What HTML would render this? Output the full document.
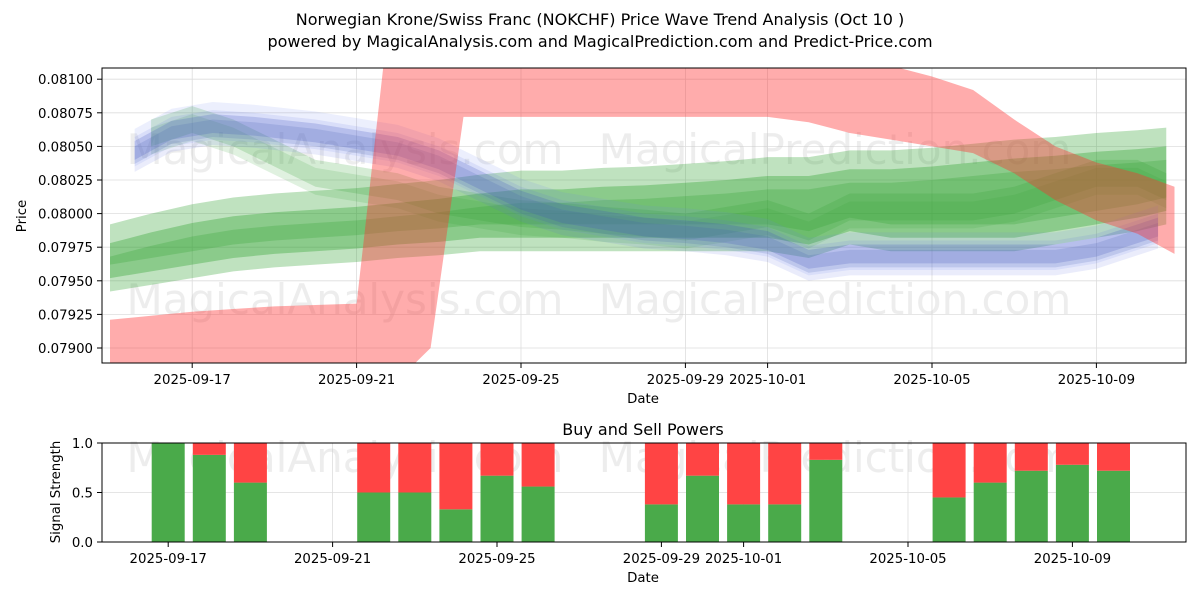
<!DOCTYPE html>
<html><head><meta charset="utf-8"><style>
body{margin:0;background:#fff;font-family:"Liberation Sans","DejaVu Sans",sans-serif}
svg text{font-family:"DejaVu Sans","Liberation Sans",sans-serif}
</style></head><body>
<svg id="c" width="1200" height="600" xmlns="http://www.w3.org/2000/svg">
<defs>
<clipPath id="cp1"><rect x="102" y="68" width="1084" height="295"/></clipPath>
<clipPath id="cp2"><rect x="102" y="443" width="1084" height="99"/></clipPath>
</defs>
<text x="600" y="25" text-anchor="middle" font-size="16">Norwegian Krone/Swiss Franc (NOKCHF) Price Wave Trend Analysis (Oct 10 )</text>
<text x="600" y="47" text-anchor="middle" font-size="16">powered by MagicalAnalysis.com and MagicalPrediction.com and Predict-Price.com</text>
<g id="topg"></g>
<g id="botg"></g>
</svg>
<script>
const NS="http://www.w3.org/2000/svg";
// ---- data ----
const dayLabels=["2025-09-17","2025-09-21","2025-09-25","2025-09-29","2025-10-01","2025-10-05","2025-10-09"];
const dayTickIdx=[2,6,10,14,16,20,24];
const priceTicks=[0.079,0.07925,0.0795,0.07975,0.08,0.08025,0.0805,0.08075,0.081];
const redDays=[0,1,2,3,4,5,6,6.8,7.8,8.6,10,12,14,16,17,18,19,20,21,22,23,24,25,25.9];
const redUpper=[0.07921,0.07924,0.07927,0.07929,0.07931,0.07932,0.07933,0.0815,0.0815,0.0815,0.0815,0.0815,0.0815,0.0815,0.0814,0.0812,0.0811,0.08102,0.08092,0.0807,0.0805,0.08038,0.0803,0.0802];
const redLower=[0.0787,0.0787,0.0787,0.0787,0.0787,0.0787,0.0787,0.0787,0.0790,0.08072,0.08072,0.08072,0.08072,0.08072,0.08068,0.0806,0.08055,0.0805,0.08045,0.0803,0.0801,0.07995,0.07985,0.0797];
const waveDays=[0,1,2,3,4,5,6,7,8,9,10,11,12,13,14,15,16,17,18,19,20,21,22,23,24,25,25.7];
const greenMain=[0.0797,0.07978,0.07985,0.0799,0.07993,0.07995,0.07997,0.0800,0.08003,0.08007,0.0801,0.0801,0.08012,0.08013,0.08015,0.08017,0.0802,0.0802,0.08025,0.08025,0.08027,0.0803,0.08033,0.08035,0.08038,0.0804,0.08042];
const greenLow=[0.0796,0.07965,0.0797,0.07975,0.07978,0.0798,0.07982,0.07985,0.07987,0.0799,0.0799,0.0799,0.0799,0.0799,0.0799,0.0799,0.0799,0.07985,0.07995,0.0799,0.0799,0.0799,0.0799,0.07995,0.08,0.08005,0.0801];
const blueDays=[0.6,1.5,2.5,3.5,5,6,7,8,9,10,11,12,13,14,15,16,17,18,19,20,21,22,23,24,25,25.5];
const blueMid=[0.08047,0.08062,0.08067,0.08065,0.0806,0.08055,0.0805,0.0804,0.08025,0.0801,0.08,0.07995,0.0799,0.07988,0.07985,0.0798,0.07966,0.0797,0.0797,0.0797,0.0797,0.0797,0.0797,0.07975,0.07985,0.0799];
const greenEarly=[0.0806,0.0806,0.0807,0.0806,0.08045,0.0803,0.08025,0.0802,0.0801,0.08005,0.08,0.07998,0.07995,0.07993,0.0799,0.07995,0.08,0.0799,0.08005,0.08005,0.08005,0.08005,0.0801,0.0802,0.0803,0.0803,0.0802];
const barDays=[2,3,4,7,8,9,10,11,14,15,16,17,18,21,22,23,24,25];
const buyPower=[1.0,0.88,0.6,0.5,0.5,0.33,0.67,0.56,0.38,0.67,0.38,0.38,0.83,0.45,0.6,0.72,0.78,0.72];
const sigTicks=[0,0.5,1.0];
// ---- scales ----
const X=d=>110+d*41.1;
const XB=d=>X(d)-24;
const Y=p=>348-(p-0.079)/0.00025*33.6;
const Y2=v=>542-v*99;
const FS=13.3;
function el(t,a,p){const e=document.createElementNS(NS,t);for(const k in a)e.setAttribute(k,a[k]);p.appendChild(e);return e;}
const gTop=document.getElementById('topg'),gBot=document.getElementById('botg');
priceTicks.forEach(p=>{const l=el('line',{x1:102,x2:1186,y1:Y(p),y2:Y(p),stroke:'#ddd','stroke-width':0.8},gTop);

});
dayTickIdx.forEach(d=>{const l=el('line',{x1:X(d),x2:X(d),y1:68,y2:363,stroke:'#ddd','stroke-width':0.8},gTop);


const l2=el('line',{x1:XB(d),x2:XB(d),y1:443,y2:542,stroke:'#ddd','stroke-width':0.8},gBot);

});
[0.5].forEach(v=>{const l=el('line',{x1:102,x2:1186,y1:Y2(v),y2:Y2(v),stroke:'#ddd','stroke-width':0.8},gBot);

});
[[345,150,gTop],[835,150,gTop],[345,300,gTop],[835,300,gTop],[345,458,gBot],[835,458,gBot]].forEach((w,i)=>{
const t=el('text',{x:w[0],y:w[1]+14,'text-anchor':'middle','font-size':42,fill:'#ccc','fill-opacity':0.35},w[2]);
t.textContent=(i%2==0)?'MagicalAnalysis.com':'MagicalPrediction.com';

});
const g=el('g',{'clip-path':'url(#cp1)'},gTop);
function band(days,up,lo,fill,op,name){
let d='M'+days.map((x,i)=>X(x)+','+Y(up[i])).join('L');
d+='L'+days.map((x,i)=>[X(x),Y(lo[i])]).reverse().map(a=>a.join(',')).join('L')+'Z';
const p=el('path',{d:d,fill:fill,'fill-opacity':op},g);

}
function off(arr,o){return arr.map(v=>v+o);}
band(waveDays,off(greenMain,0.00022),off(greenLow,-0.00018),'#2ca02c',0.3,'green-wave-wide');
band(waveDays,off(greenMain,0.00008),off(greenLow,-0.00008),'#2ca02c',0.35,'green-wave-main');
band(waveDays,off(greenMain,-0.00002),off(greenLow,0.00002),'#2ca02c',0.25,'green-wave-inner');
band(waveDays.slice(1),off(greenEarly.slice(1),0.0001),off(greenEarly.slice(1),-0.0001),'#2ca02c',0.2,'green-wave-early');
band(waveDays.slice(1),off(greenEarly.slice(1),0.00004),off(greenEarly.slice(1),-0.00016),'#2ca02c',0.15,'green-wave-early-2');
band(blueDays,off(blueMid,0.00016),off(blueMid,-0.00012),'#7080f0',0.13,'blue-wave-outer');
band(blueDays,off(blueMid,0.0001),off(blueMid,-0.00016),'#6070e0',0.13,'blue-wave-outer-2');
band(blueDays,off(blueMid,0.00007),off(blueMid,-0.00007),'#4050c0',0.22,'blue-wave-mid');
band(blueDays,off(blueMid,0.00003),off(blueMid,-0.0001),'#4060b0',0.18,'blue-wave-inner');
band(redDays,redUpper,redLower,'#ff3030',0.4,'red-wave');
let r=el('rect',{x:102,y:68,width:1084,height:295,fill:'none',stroke:'#000','stroke-width':1},gTop);

priceTicks.forEach(p=>{el('line',{x1:97,x2:102,y1:Y(p),y2:Y(p),stroke:'#000'},gTop);
const t=el('text',{x:93,y:Y(p)+5,'text-anchor':'end','font-size':FS},gTop);t.textContent=p.toFixed(5);

});
dayTickIdx.forEach((d,i)=>{el('line',{x1:X(d),x2:X(d),y1:363,y2:368,stroke:'#000'},gTop);
const t=el('text',{x:X(d),y:384,'text-anchor':'middle','font-size':FS},gTop);t.textContent=dayLabels[i];

});
let t=el('text',{x:643,y:403,'text-anchor':'middle','font-size':FS},gTop);t.textContent='Date';

t=el('text',{x:26,y:216,'text-anchor':'middle','font-size':FS,transform:'rotate(-90 26 216)'},gTop);t.textContent='Price';

const g2=el('g',{'clip-path':'url(#cp2)'},gBot);
barDays.forEach((d,i)=>{const bw=33;
const gr=el('rect',{x:XB(d)-bw/2,y:Y2(buyPower[i]),width:bw,height:Y2(0)-Y2(buyPower[i]),fill:'#4aaa4a'},g2);


const rd=el('rect',{x:XB(d)-bw/2,y:Y2(1),width:bw,height:Y2(buyPower[i])-Y2(1),fill:'#ff4444'},g2);

});
r=el('rect',{x:102,y:443,width:1084,height:99,fill:'none',stroke:'#000','stroke-width':1},gBot);

sigTicks.forEach(v=>{el('line',{x1:97,x2:102,y1:Y2(v),y2:Y2(v),stroke:'#000'},gBot);
const t=el('text',{x:93,y:Y2(v)+5,'text-anchor':'end','font-size':FS},gBot);t.textContent=v.toFixed(1);

});
dayTickIdx.forEach((d,i)=>{el('line',{x1:XB(d),x2:XB(d),y1:542,y2:547,stroke:'#000'},gBot);
const t=el('text',{x:XB(d),y:563,'text-anchor':'middle','font-size':FS},gBot);t.textContent=dayLabels[i];

});
t=el('text',{x:643,y:582,'text-anchor':'middle','font-size':FS},gBot);t.textContent='Date';

t=el('text',{x:60,y:492,'text-anchor':'middle','font-size':FS,transform:'rotate(-90 60 492)'},gBot);t.textContent='Signal Strength';

t=el('text',{x:643,y:435,'text-anchor':'middle','font-size':16},gBot);t.textContent='Buy and Sell Powers';

</script>
</body></html>
